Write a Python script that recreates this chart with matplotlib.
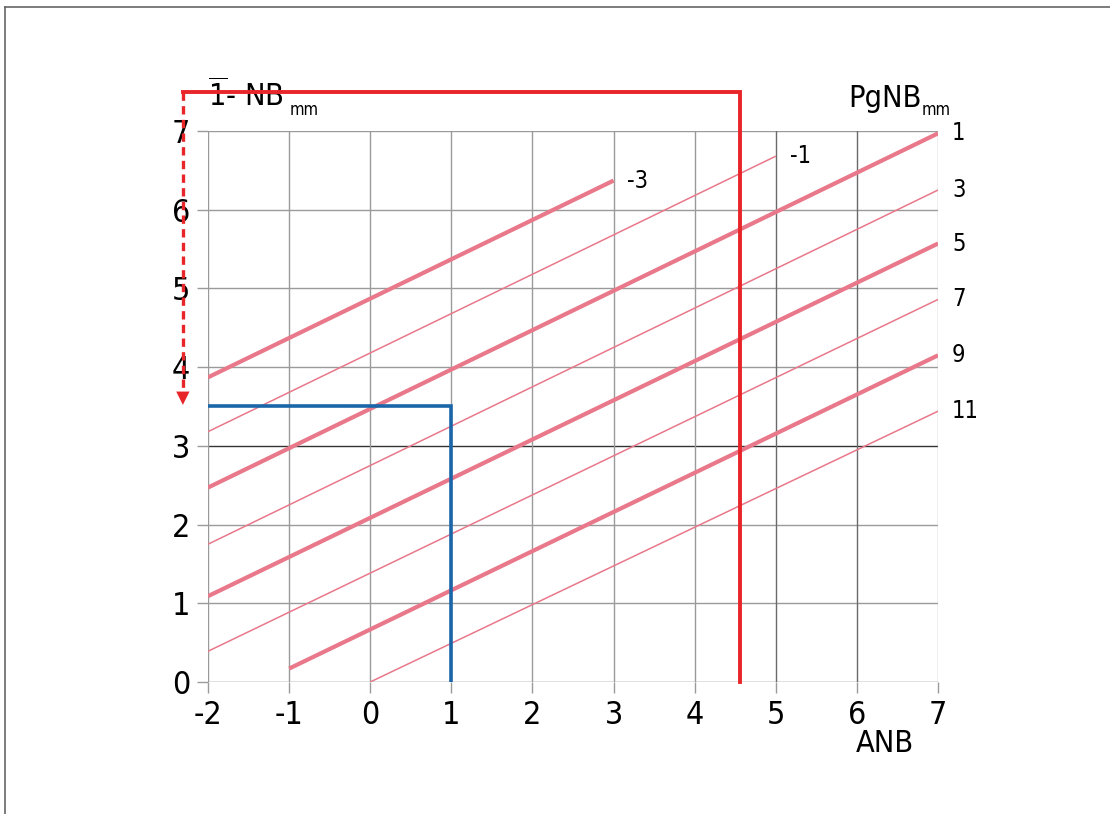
import numpy as np
import matplotlib
matplotlib.use('Agg')
import matplotlib.pyplot as plt
from matplotlib.lines import Line2D

plt.rcParams['font.family'] = ['DejaVu Sans']
plt.rcParams['font.stretch'] = 'condensed'

# PgNB lines (nomogram): label, start/end ANB, start/end 1-NB
pgnb_labels = ['-3', '-1', '1', '3', '5', '7', '9', '11']
x_start = [-2, -2, -2, -2, -2, -2, -1, 0]
x_end = [3, 5, 7, 7, 7, 7, 7, 7]
y_start = [3.87, 3.18, 2.47, 1.75, 1.09, 0.39, 0.17, 0.0]
y_end = [6.37, 6.68, 6.97, 6.25, 5.57, 4.86, 4.15, 3.44]
thick = [True, False, True, False, True, False, True, False]

x_ticks = [-2, -1, 0, 1, 2, 3, 4, 5, 6, 7]
y_ticks = [0, 1, 2, 3, 4, 5, 6, 7]

# example readings
red_anb = 4.56
red_top = 7.5
red_left = -2.31
red_arrow_to = 3.52
blue_anb = 1.0
blue_nb = 3.5

PINK = '#e8788a'
RED = '#e8262a'
BLUE = '#1a66a8'

fig = plt.figure(figsize=(11.1, 8.14), dpi=100)
ax = fig.add_axes([0.1874, 0.1622, 0.6577, 0.6769])
ax.set_xlim(-2, 7)
ax.set_ylim(0, 7)
for s in ax.spines.values():
    s.set_visible(False)

# grid
for y in y_ticks:
    c = '#333333' if y == 3 else ('#666666' if y == 0 else '#9a9a9a')
    ax.axhline(y, color=c, lw=1.0, zorder=1)
for x in x_ticks:
    c = '#6a6a6a' if x in (5, 6) else ('#b0b0b0' if x == 7 else '#9a9a9a')
    ax.axvline(x, color=c, lw=1.0, zorder=1)

ax.set_xticks(x_ticks)
ax.set_yticks(y_ticks)
ax.set_xticklabels([str(v) for v in x_ticks])
ax.set_yticklabels([str(v) for v in y_ticks])
ax.tick_params(axis='both', direction='out', length=8, width=1.0, color='#9a9a9a',
               labelsize=23)
ax.tick_params(axis='x', pad=5)
ax.tick_params(axis='y', pad=5)

# PgNB lines
for lab, xs, xe, ys, ye, tk in zip(pgnb_labels, x_start, x_end, y_start, y_end, thick):
    ax.plot([xs, xe], [ys, ye], color=PINK, lw=3.0 if tk else 1.1,
            solid_capstyle='butt', zorder=2)
    ax.annotate(lab, (xe, ye), xytext=(10, 0), textcoords='offset points',
                ha='left', va='center', fontsize=17, annotation_clip=False)

# blue reading
ax.plot([-2, blue_anb, blue_anb], [blue_nb, blue_nb, 0], color=BLUE, lw=2.6,
        solid_joinstyle='miter', zorder=4)

# red reading
ax.plot([red_left, red_anb, red_anb], [red_top, red_top, 0], color=RED, lw=2.8,
        solid_joinstyle='miter', zorder=4, clip_on=False)
ax.plot([red_left, red_left], [red_top, red_arrow_to + 0.15], color=RED, lw=2.4,
        dashes=(2.5, 1.6), zorder=4, clip_on=False)
ax.annotate('', xy=(red_left, red_arrow_to), xytext=(red_left, red_arrow_to + 0.25),
            arrowprops=dict(arrowstyle='-|>', color=RED, lw=0, mutation_scale=24,
                            shrinkA=0, shrinkB=0),
            annotation_clip=False)

# axis titles
t1 = ax.annotate(r'$\overline{1}$- NB', (-2, 7.31), ha='left', va='baseline',
                 fontsize=22, annotation_clip=False)
ax.annotate('mm', xy=(1, 0), xycoords=t1, xytext=(4, -2), textcoords='offset points',
            ha='left', va='baseline', fontsize=12)
t2 = ax.annotate('PgNB', (6.8, 7.31), ha='right', va='baseline', fontsize=22,
                 annotation_clip=False)
ax.annotate('mm', xy=(1, 0), xycoords=t2, xytext=(0, -2), textcoords='offset points',
            ha='left', va='baseline', fontsize=12)
ax.annotate('ANB', (6.35, -0.89), ha='center', va='baseline', fontsize=22,
            annotation_clip=False)

# outer frame
fig.add_artist(Line2D([0.0045, 1.0], [0.9914, 0.9914], transform=fig.transFigure,
                      color='#666666', lw=1.2))
fig.add_artist(Line2D([0.0045, 0.0045], [0.0, 0.9914], transform=fig.transFigure,
                      color='#666666', lw=1.2))

fig.savefig('out.png', dpi=100)
